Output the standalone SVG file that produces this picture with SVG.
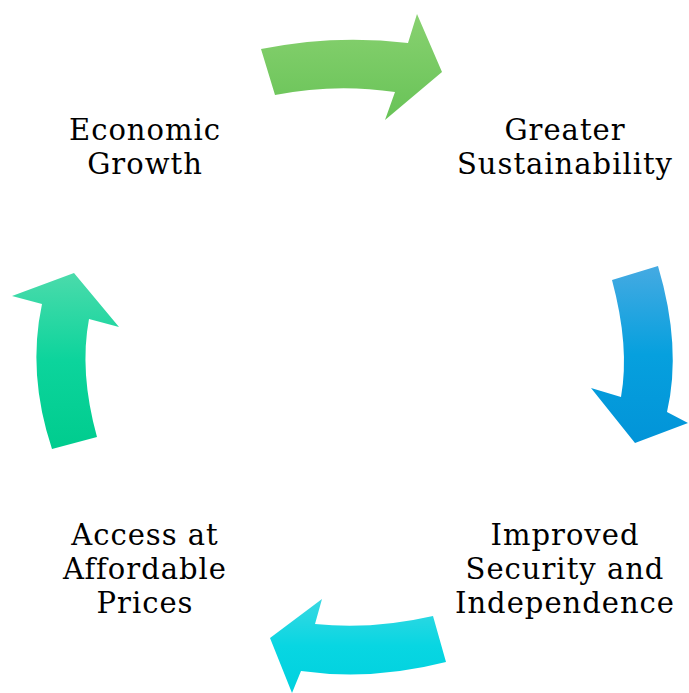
<svg xmlns="http://www.w3.org/2000/svg" width="689" height="693" viewBox="0 0 689 693">
  <style>
    .label { font-family: "DejaVu Serif", "Liberation Serif", serif; font-size: 29px; letter-spacing: 1px; fill: #000; text-anchor: middle; }
  </style>
  <defs>
    <linearGradient id="gGreen" x1="0" y1="0" x2="0" y2="1">
      <stop offset="0" stop-color="#88d170"/>
      <stop offset="1" stop-color="#68c357"/>
    </linearGradient>
    <linearGradient id="gBlue" x1="0" y1="0" x2="0" y2="1">
      <stop offset="0" stop-color="#45aae2"/>
      <stop offset="0.5" stop-color="#06a0de"/>
      <stop offset="1" stop-color="#0294d8"/>
    </linearGradient>
    <linearGradient id="gCyan" x1="0" y1="0" x2="0" y2="1">
      <stop offset="0" stop-color="#3ad8e2"/>
      <stop offset="0.5" stop-color="#08d6e2"/>
      <stop offset="1" stop-color="#00d1de"/>
    </linearGradient>
    <linearGradient id="gTeal" x1="0" y1="0" x2="0" y2="1">
      <stop offset="0" stop-color="#4bdbab"/>
      <stop offset="0.5" stop-color="#0cd49c"/>
      <stop offset="1" stop-color="#00cc8e"/>
    </linearGradient>
  </defs>

  <!-- curved cycle arrows -->
  <g id="connectors">
    <path id="arrow-growth-to-sustainability" fill="url(#gGreen)"
          d="M261,49 Q335,34 408,43 L417,14 L442,72 L385,120 L395,92 Q335,83 275,95 Z"/>
    <path id="arrow-sustainability-to-security" fill="url(#gBlue)"
          d="M612,280 L658,266 Q682,347 667,412 L688,423 L635,443 L591,388 L621,397 Q630,347 612,280 Z"/>
    <path id="arrow-security-to-access" fill="url(#gCyan)"
          d="M433,616 Q372,630 315,624 L322,599 L270,638 L292,693 L301,671 Q372,681 446,662 Z"/>
    <path id="arrow-access-to-growth" fill="url(#gTeal)"
          d="M52,449 Q27,374 42,304 L12,296 L74,273 L119,327 L89,319 Q79,372 97,437 Z"/>
  </g>

  <g id="economic-growth">
    <text class="label" x="145" y="140">Economic</text>
    <text class="label" x="145" y="174">Growth</text>
  </g>
  <g id="greater-sustainability">
    <text class="label" x="565" y="140">Greater</text>
    <text class="label" x="565" y="174">Sustainability</text>
  </g>
  <g id="improved-security">
    <text class="label" x="565" y="545">Improved</text>
    <text class="label" x="565" y="579">Security and</text>
    <text class="label" x="565" y="613">Independence</text>
  </g>
  <g id="affordable-access">
    <text class="label" x="145" y="545">Access at</text>
    <text class="label" x="145" y="579">Affordable</text>
    <text class="label" x="145" y="613">Prices</text>
  </g>
</svg>
